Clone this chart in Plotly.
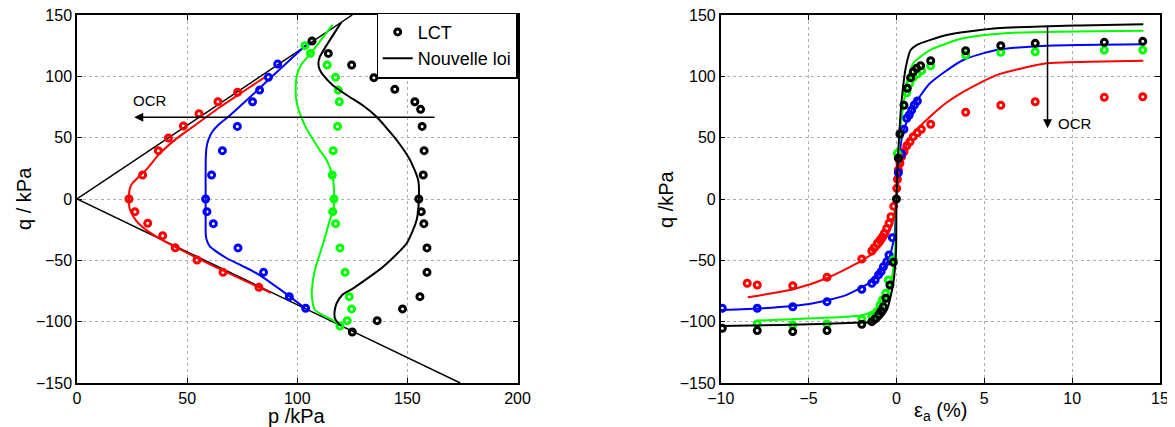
import plotly.graph_objects as go

W, H = 1175, 427          # browser window
OFF = 8                   # default body margin of the html page
FW, FH = W - OFF, H - OFF # figure size
FONT = "Liberation Sans, Arial, Helvetica, sans-serif"
RED, BLUE, GREEN, BLACK = "#ff0000", "#0000ff", "#00ff00", "#000000"


def fx(px):
    return (px - OFF) / FW


def fy(py):
    return 1 - (py - OFF) / FH


# ---------------- Left panel: q vs p (stress paths) ----------------
fail_c_p = [0, 125]
fail_c_q = [0, 150]
fail_e_p = [0, 174]
fail_e_q = [0, -150]

sp_red_p = [72.9, 64.0, 55.4, 48.3, 41.5, 36.9, 29.8, 23.6, 26.3, 32.1, 38.9, 44.6, 54.5, 66.3, 82.6]
sp_red_q = [87.0, 79.3, 69.5, 59.5, 49.7, 39.4, 19.6, 0, -10.3, -19.8, -29.9, -39.7, -49.7, -59.8, -72.0]
sp_blue_p = [91.1, 86.9, 82.9, 79.7, 72.8, 66.0, 61.1, 58.4, 59.0, 61.9, 73.1, 84.7, 96.4, 103.8]
sp_blue_q = [110, 99.2, 88.8, 79.3, 59.2, 39.4, 19.6, 0, -10.3, -20.1, -39.9, -59.8, -79.6, -89.1]
sp_green_p = [103.5, 106.0, 113.6, 117.4, 118.6, 119.1, 118.3, 116.3, 115.9, 116.7, 116.1, 117.4,
              119.4, 121.7, 123.6, 124.7, 122.7, 119.4]
sp_green_q = [125, 118.7, 109.2, 99.2, 88.8, 79.3, 59.2, 39.4, 19.6, 0, -10.3, -20.1,
              -39.9, -59.8, -79.6, -89.6, -99.2, -103.5]
sp_black_p = [106.7, 114.1, 124.7, 134.8, 144.3, 153.4, 156.0, 156.7, 157.6, 157.2, 155.2, 156.3,
              157.5, 158.9, 158.9, 155.7, 147.8, 136.3, 125.0]
sp_black_q = [128.8, 118.7, 109.2, 98.9, 89.4, 79.3, 73.1, 59.2, 39.4, 19.6, 0, -10.3,
              -20.1, -39.9, -59.8, -79.6, -89.6, -99.2, -108.4]

spm_red_p = [85, 75, 65, 55, 45, 37, 32, 28, 25.2, 23.9, 23.6, 23.9, 25.5, 28, 32, 38, 45, 55, 70, 82, 88]
spm_red_q = [99, 87, 75, 62, 49, 36, 25, 18, 13, 8, 0, -8, -14, -20, -26, -32.8, -39.5, -48.5, -61.5, -71.5, -76.5]
spm_blue_p = [104, 91, 83, 75.5, 68.7, 64.5, 61.5, 59.6, 58.8, 58.5, 58.4, 58.4, 58.4, 58.5, 59.2, 60.4,
              63, 68, 75, 81.6, 93.6, 103.5]
spm_blue_q = [125.5, 104, 90.5, 78, 67, 61, 55, 48, 42, 35, 20, 0, -20, -30, -35, -38.9,
              -42.5, -48.3, -54.5, -60.6, -75.5, -89]
spm_green_p = [116, 106, 102, 100, 99.3, 99.6, 101.2, 104, 107.3, 110.5, 113.3, 115.5, 116.3, 116.7, 116.7,
               116.5, 114.8, 111.8, 108, 106.6, 106.8, 108, 112, 116.3, 119.4]
spm_green_q = [142, 118.5, 110, 102, 92, 80, 69.8, 58, 48.1, 39, 31.8, 22, 15.5, 5, 0,
               -8, -17.1, -36.1, -57.9, -75, -82.3, -90.5, -95, -99, -103]
spm_black_p = [120, 110.3, 109.6, 110.3, 111.8, 116, 122.4, 130, 136, 145.1, 151.2, 154.9, 155.2,
               154.2, 149.7, 139, 125.4, 120.5, 117.9, 117.0, 117.1, 119.4]
spm_black_q = [144, 116, 110, 105, 101, 93, 84.8, 76, 67, 48.1, 31.8, 15.5, 0,
               -17.1, -36.1, -55.2, -72.8, -78, -85, -91, -97.2, -103]

# ---------------- Right panel: q vs axial strain ----------------
ea_red = [14.02, 11.83, 7.9, 5.94, 3.94, 1.95, 1.42, 1.19, 0.96, 0.77, 0.59, 0.43, 0.30, 0.20, 0.11,
          0.06, 0.02, -0.15, -0.31, -0.42, -0.55, -0.69, -0.80, -0.93, -1.08, -1.27, -1.40, -1.97,
          -3.95, -5.90, -7.92, -8.49]
qa_red = [83.4, 82.9, 79.3, 76.4, 70.7, 60.9, 56.8, 54.0, 50.8, 46.7, 43.4, 38.5, 34.5, 29.1, 23.6,
          16.0, 8.7, -6, -14.4, -19.8, -24, -28.0, -31, -33.4, -36.1, -39.7, -42.4, -48.9,
          -63.8, -70.7, -70.1, -68.7]
ea_blue = [1.19, 1.02, 0.87, 0.73, 0.59, 0.43, 0.30, 0.11, -0.23, -0.42, -0.55, -0.74, -0.87,
           -1.02, -1.21, -1.40, -1.97, -3.95, -5.90, -7.92, -9.91]
qa_blue = [79.9, 76.6, 72.5, 68.5, 65.8, 56.8, 36.7, 21.4, -31.5, -45.6, -51.1, -55.2, -59.2,
           -61.9, -66.0, -68.7, -73.6, -83.7, -87.8, -89.1, -89.1]
ea_green = [14.02, 11.83, 7.9, 5.94, 3.94, 1.95, 1.44, 1.19, 0.96, 0.77, 0.59, 0.05, -0.18, -0.46,
            -0.61, -0.80, -0.93, -1.12, -1.40, -1.97, -3.95, -5.90, -7.92]
qa_green = [121.4, 121.4, 120.0, 119.6, 117.4, 108.6, 104.6, 101.9, 99.2, 94.3, 86.6, 37.2, -49.7, -66.0,
            -76.9, -82.3, -86.4, -91.8, -95.9, -98.0, -101.9, -102.7, -101.9]
ea_black = [14.02, 11.83, 7.9, 5.94, 3.94, 1.95, 1.38, 1.15, 0.96, 0.81, 0.62, 0.43, 0.20, 0.11, 0.0,
            -0.18, -0.37, -0.60, -0.74, -0.87, -1.00, -1.23, -1.40, -1.97, -3.95, -5.90, -7.92, -9.91]
qa_black = [128.5, 127.7, 126.9, 124.9, 120.9, 112.7, 108.6, 106.5, 103.7, 98.9, 90.2, 76.4, 53.0, 33.2, 0,
            -51.6, -70.1, -80.9, -87.8, -91.4, -94.0, -97.8, -100.0, -102.1, -107.3, -108.1, -107.3, -105.4]

eam_red = [-8.46, -5.87, -3.97, -2.07, -1.12, -0.55, -0.18, 0, 0.2, 0.5, 0.96, 1.91, 2.8, 3.8, 5.7, 8.55, 11, 14.05]
qam_red = [-80.1, -73.6, -64.6, -51.1, -41.6, -30.7, -17.1, 0, 26.3, 41, 53.5, 67, 78, 87.4, 101, 110.6, 111.8, 112.7]
eam_blue = [-10, -7.58, -4.73, -2.83, -1.31, -0.46, -0.12, 0, 0.11, 0.36, 0.96, 1.91, 3.8, 5.7, 8.55, 14.05]
qam_blue = [-90.5, -89.1, -85.0, -78.2, -66.0, -49.7, -30.7, 0, 26.3, 53.5, 75.2, 94.3, 113.3, 121.4, 124.9, 126.1]
eam_green = [-7.95, -4.73, -1.88, -0.93, -0.36, -0.08, 0, 0.2, 0.59, 0.96, 1.91, 3.8, 6.65, 14.05]
qam_green = [-99.2, -97.2, -94.5, -87.8, -71.5, -41.6, 0, 53.5, 94.3, 110.6, 121.4, 131, 135.5, 137.2]
eam_black = [-10, -6.62, -1.97, -1.12, -0.55, -0.18, -0.02, 0, 0.11, 0.3, 0.54, 0.81, 1.15, 2.86, 5.7, 10.45, 14.05]
qam_black = [-103.5, -102.7, -100.7, -100.0, -90.5, -68.7, -41.6, 0, 40, 80.7, 107.8, 121.4, 125.5, 133.7, 139.1, 141.5, 142.4]

x_ticks_left = [0, 50, 100, 150, 200]
x_ticks_right = [-10, -5, 0, 5, 10, 15]
y_ticks = [-150, -100, -50, 0, 50, 100, 150]

fig = go.Figure()


def line(x, y, color, xa, ya, width=2.0, name=None, show=False, shape="spline"):
    fig.add_trace(go.Scatter(x=x, y=y, mode="lines", xaxis=xa, yaxis=ya,
                             line=dict(color=color, width=width, shape=shape, smoothing=0.6),
                             name=name, showlegend=show, hoverinfo="skip"))


def dots(x, y, color, xa, ya, name=None, show=False):
    fig.add_trace(go.Scatter(x=x, y=y, mode="markers", xaxis=xa, yaxis=ya,
                             marker=dict(symbol="circle-open", size=6, color=color,
                                         line=dict(color=color, width=3)),
                             name=name, showlegend=show, hoverinfo="skip"))


# left panel
line(fail_c_p, fail_c_q, BLACK, "x", "y", width=1.5, shape="linear")
line(fail_e_p, fail_e_q, BLACK, "x", "y", width=1.5, shape="linear")
for (lp, lq, c) in [(spm_red_p, spm_red_q, RED), (spm_blue_p, spm_blue_q, BLUE),
                    (spm_green_p, spm_green_q, GREEN)]:
    line(lp, lq, c, "x", "y")
for (dp, dq, c) in [(sp_red_p, sp_red_q, RED), (sp_blue_p, sp_blue_q, BLUE),
                    (sp_green_p, sp_green_q, GREEN)]:
    dots(dp, dq, c, "x", "y")
dots(sp_black_p, sp_black_q, BLACK, "x", "y", name="LCT", show=True)
line(spm_black_p, spm_black_q, BLACK, "x", "y", name="Nouvelle loi", show=True)

# right panel
for (le, lq, c) in [(eam_red, qam_red, RED), (eam_blue, qam_blue, BLUE), (eam_green, qam_green, GREEN)]:
    line(le, lq, c, "x2", "y2")
for (de, dq, c) in [(ea_red, qa_red, RED), (ea_blue, qa_blue, BLUE), (ea_green, qa_green, GREEN),
                    (ea_black, qa_black, BLACK)]:
    dots(de, dq, c, "x2", "y2")
line(eam_black, qam_black, BLACK, "x2", "y2")

ax_common = dict(showline=True, linecolor="black", linewidth=1.5, mirror="ticks",
                 ticks="inside", ticklen=5, tickwidth=1, tickcolor="black",
                 showgrid=True, gridcolor="#b0b0b0", griddash="dot", gridwidth=1,
                 zeroline=False, automargin=False, ticklabeloverflow="allow",
                 tickfont=dict(family=FONT, size=16, color="black"))

yd = [fy(383), fy(15)]
fig.update_layout(
    width=FW, height=FH,
    margin=dict(l=0, r=0, t=0, b=0),
    paper_bgcolor="white", plot_bgcolor="white",
    font=dict(family=FONT, color="black"),
    xaxis=dict(domain=[fx(77), fx(517.5)], range=[0, 200], tickvals=x_ticks_left, anchor="y", **ax_common),
    yaxis=dict(domain=yd, range=[-150, 150], tickvals=y_ticks, anchor="x", **ax_common),
    xaxis2=dict(domain=[fx(720.7), fx(1160)], range=[-10, 15], tickvals=x_ticks_right, anchor="y2", **ax_common),
    yaxis2=dict(domain=yd, range=[-150, 150], tickvals=y_ticks, anchor="x2", **ax_common),
    legend=dict(x=fx(517.5), xanchor="right", y=fy(12.5), yanchor="top",
                bgcolor="white", bordercolor="black", borderwidth=1.2,
                font=dict(family=FONT, size=18, color="black"),
                itemwidth=30, tracegroupgap=0),
    showlegend=True,
)

ann = []
# axis titles
ann.append(dict(text="q / kPa", x=fx(24), y=fy(199), xref="paper", yref="paper", showarrow=False,
                textangle=-90, font=dict(family=FONT, size=20), xanchor="center", yanchor="middle"))
ann.append(dict(text="p /kPa", x=fx(297), y=fy(416), xref="paper", yref="paper", showarrow=False,
                font=dict(family=FONT, size=20), xanchor="center", yanchor="middle"))
ann.append(dict(text="q /kPa", x=fx(666), y=fy(199), xref="paper", yref="paper", showarrow=False,
                textangle=-90, font=dict(family=FONT, size=20), xanchor="center", yanchor="middle"))
ann.append(dict(text="ε<sub>a</sub> (%)", x=fx(940), y=fy(411), xref="paper", yref="paper",
                showarrow=False, font=dict(family=FONT, size=20), xanchor="center", yanchor="middle"))
# OCR arrows
ann.append(dict(x=26, y=66.6, ax=163, ay=66.6, xref="x", yref="y", axref="x", ayref="y",
                showarrow=True, arrowhead=2, arrowsize=1.2, arrowwidth=1.5, arrowcolor="black", text=""))
ann.append(dict(text="OCR", x=33, y=80, xref="x", yref="y", showarrow=False,
                font=dict(family=FONT, size=15), xanchor="center", yanchor="middle"))
ann.append(dict(x=8.6, y=57.6, ax=8.6, ay=142.4, xref="x2", yref="y2", axref="x2", ayref="y2",
                showarrow=True, arrowhead=2, arrowsize=1.2, arrowwidth=1.5, arrowcolor="black", text=""))
ann.append(dict(text="OCR", x=9.1, y=61.4, xref="x2", yref="y2", showarrow=False,
                font=dict(family=FONT, size=15), xanchor="left", yanchor="middle"))
fig.update_layout(annotations=ann)

fig.write_html("out.html")
